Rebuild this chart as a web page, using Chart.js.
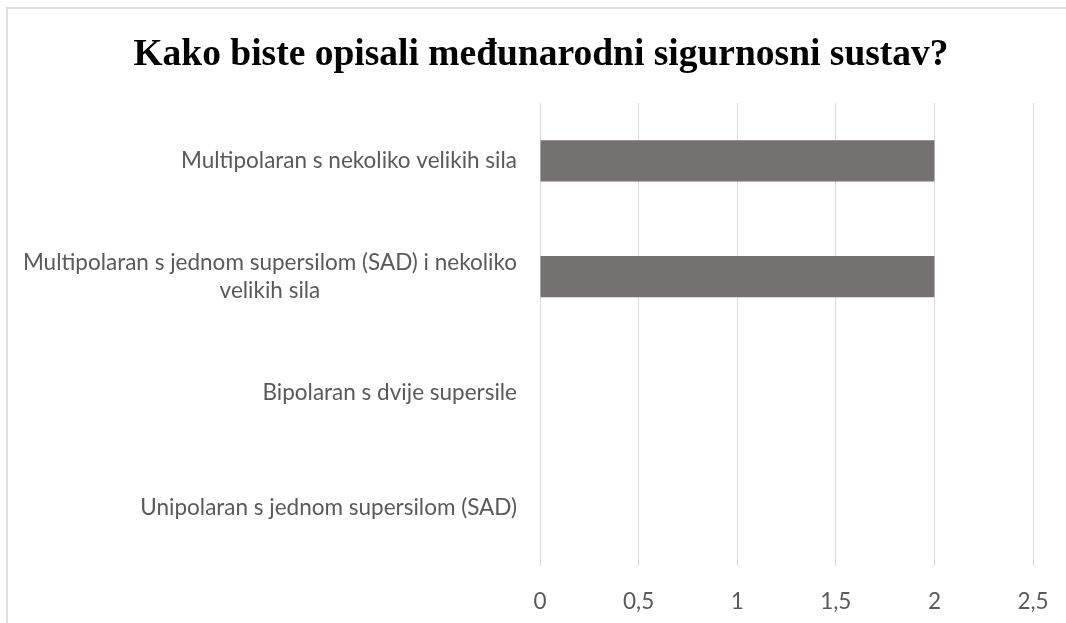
<!DOCTYPE html>
<html>
<head>
<meta charset="utf-8">
<script src="https://cdn.jsdelivr.net/npm/chart.js@4.4.1/dist/chart.umd.min.js"></script>
<style>
    html, body { margin: 0; padding: 0; background: #fff; }
    #wrap { position: relative; width: 1066px; height: 623px; overflow: hidden; }
    #frame { position: absolute; left: 6px; top: 7px; right: -4px; bottom: -4px; border-left: 2px solid #dedede; border-top: 2px solid #dedede; }
    #graf { position: absolute; left: 0; top: 0; }
</style>
</head>
<body>
<div id="wrap">
    <div id="frame"></div>
    <canvas id="graf" width="1066" height="623"></canvas>
</div>
<script>
// Podaci ankete
const naslov = 'Kako biste opisali međunarodni sigurnosni sustav?';
const kategorije = [
    'Multipolaran s nekoliko velikih sila',
    ['Multipolaran s jednom supersilom (SAD) i nekoliko', 'velikih sila'],
    'Bipolaran s dvije supersile',
    'Unipolaran s jednom supersilom (SAD)'
];
const odgovori = [2, 2, 0, 0];
const oznakeX = ['0', '0,5', '1', '1,5', '2', '2,5'];

const sivaTekst = '#595959';
const fontOznaka = 22.5;
const razmakRedova = 28;

// Oznake kategorija: blok poravnat desno, redovi centrirani unutar bloka
const oznakeKategorija = {
    id: 'oznakeKategorija',
    afterDraw(chart) {
        const y = chart.scales.y;
        const ctx = chart.ctx;
        const desno = chart.chartArea.left - 23;
        ctx.save();
        ctx.font = `${fontOznaka}px Lato`;
        ctx.fillStyle = sivaTekst;
        ctx.textAlign = 'center';
        ctx.textBaseline = 'middle';
        kategorije.forEach((k, i) => {
            const redovi = [].concat(k);
            const sirina = Math.max(...redovi.map(r => ctx.measureText(r).width));
            const cx = desno - sirina / 2;
            const cy = y.getPixelForTick(i);
            redovi.forEach((r, j) => {
                ctx.fillText(r, cx, cy + (j - (redovi.length - 1) / 2) * razmakRedova);
            });
        });
        ctx.restore();
    }
};

new Chart(document.getElementById('graf'), {
    type: 'bar',
    data: {
        labels: kategorije,
        datasets: [{
            data: odgovori,
            backgroundColor: '#767171',
            borderWidth: 0,
            barPercentage: 0.355,
            categoryPercentage: 1
        }]
    },
    options: {
        indexAxis: 'y',
        responsive: false,
        animation: false,
        layout: { padding: { left: 49, right: 33, top: 0, bottom: 0 } },
        plugins: {
            legend: { display: false },
            tooltip: { enabled: false },
            title: {
                display: true,
                text: naslov,
                color: '#000',
                font: { family: 'Liberation Serif', size: 37.5, weight: 'bold', lineHeight: 1.2 },
                padding: { top: 33, bottom: 25 }
            }
        },
        scales: {
            x: {
                min: 0,
                max: 2.5,
                ticks: {
                    stepSize: 0.5,
                    color: sivaTekst,
                    font: { family: 'Lato', size: fontOznaka },
                    padding: 22,
                    callback: (v, i) => oznakeX[i]
                },
                grid: { color: '#d9d9d9', lineWidth: 1, drawTicks: false },
                border: { display: false },
                afterFit: s => {
                    s.height = 57;
                    s.paddingLeft = 0;
                    s.paddingRight = 0;
                }
            },
            y: {
                ticks: { display: false },
                grid: { display: false },
                border: { display: false },
                afterFit: s => { s.width = 540 - 49; }
            }
        }
    },
    plugins: [oznakeKategorija]
});
</script>
</body>
</html>
